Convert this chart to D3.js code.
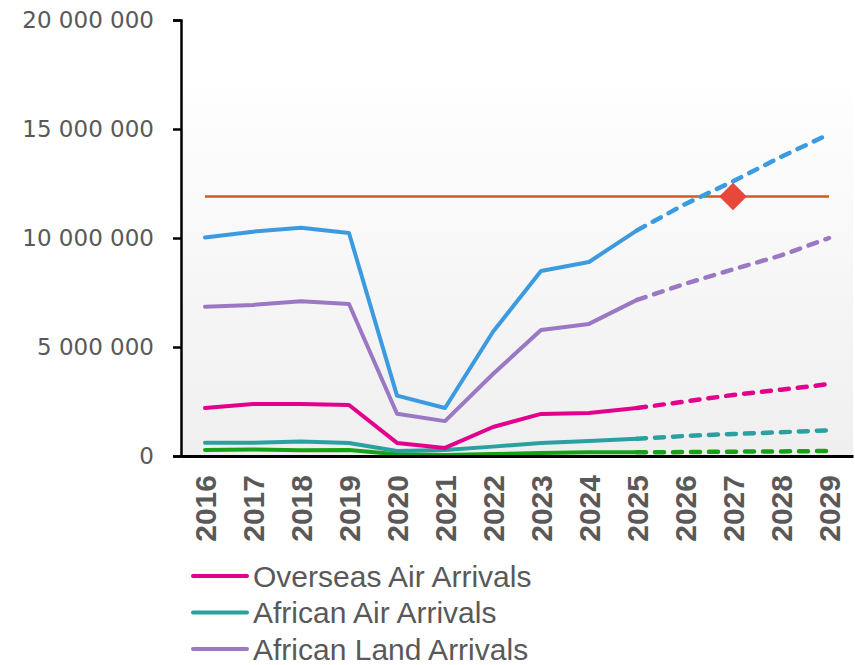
<!DOCTYPE html>
<html>
<head>
<meta charset="utf-8">
<script src="https://cdn.jsdelivr.net/npm/d3@7"></script>
<style>
    body { margin: 0; background: #ffffff; }
</style>
</head>
<body>
<svg class="arrivals" width="855" height="665"></svg>
<script>
// Years on the x axis, actuals up to 2025 and forecast after that
var years = ["2016", "2017", "2018", "2019", "2020", "2021", "2022",
             "2023", "2024", "2025", "2026", "2027", "2028", "2029"];
var forecastFrom = "2025";

// Series values (arrivals per year)
var overseasAir = [2200000, 2390000, 2390000, 2340000, 600000, 370000, 1330000,
                   1930000, 1970000, 2200000, 2500000, 2800000, 3040000, 3300000];
var africanAir = [610000, 610000, 660000, 600000, 230000, 280000, 430000,
                  600000, 690000, 790000, 920000, 1010000, 1090000, 1180000];
var africanLand = [6850000, 6930000, 7100000, 6970000, 1940000, 1600000, 3760000,
                   5780000, 6060000, 7160000, 7900000, 8560000, 9200000, 10000000];
var otherArrivals = [280000, 300000, 260000, 280000, 80000, 50000, 90000,
                     140000, 170000, 170000, 180000, 200000, 210000, 230000];
var totalArrivals = [10020000, 10290000, 10470000, 10230000, 2770000, 2200000, 5700000,
                     8490000, 8900000, 10350000, 11550000, 12600000, 13720000, 14760000];

// Target line and the year the target is met
var targetValue = 11900000;
var targetYear = "2027";

var yTicks = [0, 5000000, 10000000, 15000000, 20000000];

var series = [
    { name: "Overseas Air Arrivals", values: overseasAir, color: "#e3008c" },
    { name: "African Air Arrivals", values: africanAir, color: "#2ba0a0" },
    { name: "African Land Arrivals", values: africanLand, color: "#9a78c4" },
    { name: "Other Arrivals", values: otherArrivals, color: "#16a116" },
    { name: "Total Arrivals", values: totalArrivals, color: "#3c9be0" }
];
// only the first three legend rows fit in the picture
var legendCount = 3;

var svg = d3.select("svg.arrivals"),
    margin = {top: 20, right: 2, bottom: 209, left: 181},
    width = svg.attr("width") - margin.left - margin.right,
    height = svg.attr("height") - margin.top - margin.bottom;
var g = svg.append("g").attr("transform", "translate(" + margin.left + "," + margin.top + ")");

var x = d3.scaleBand().domain(years).range([0, width]);
var y = d3.scaleLinear().domain([0, 20000000]).range([height, 0]);
var cx = function(yr) { return x(yr) + x.bandwidth() / 2; };

var spaceFormat = d3.formatLocale({decimal: ".", thousands: " ", grouping: [3], currency: ["", ""]}).format(",");

//Plot area background, white at the top fading to light grey
var defs = svg.append("defs");
var grad = defs.append("linearGradient")
    .attr("id", "plotBg")
    .attr("x1", "0%").attr("y1", "0%")
    .attr("x2", "0%").attr("y2", "100%");
grad.append("stop").attr("offset", "0%").attr("stop-color", "#ffffff");
grad.append("stop").attr("offset", "100%").attr("stop-color", "#efefef");

g.append("rect")
    .attr("x", 2)
    .attr("y", 53)
    .attr("width", width - 2)
    .attr("height", height - 53)
    .attr("fill", "url(#plotBg)");

//Target line
g.append("line")
    .attr("x1", cx(years[0]))
    .attr("x2", cx(years[years.length - 1]))
    .attr("y1", y(targetValue))
    .attr("y2", y(targetValue))
    .style("stroke", "#d35a18")
    .style("stroke-width", 2.5);

//Lines: solid for actuals, dashed for the forecast
var splitIdx = years.indexOf(forecastFrom);
var line = d3.line()
    .x(function(d) { return cx(d.year); })
    .y(function(d) { return y(d.value); });

// draw order so blue ends on top like the original
var drawOrder = [3, 1, 0, 2, 4];
drawOrder.forEach(function(k) {
    var s = series[k];
    var pts = years.map(function(yr, i) { return {year: yr, value: s.values[i]}; });
    g.append("path")
        .attr("d", line(pts.slice(0, splitIdx + 1)))
        .style("fill", "none")
        .style("stroke", s.color)
        .style("stroke-width", 4)
        .style("stroke-linejoin", "round")
        .style("stroke-linecap", "round");
    g.append("path")
        .attr("d", line(pts.slice(splitIdx)))
        .style("fill", "none")
        .style("stroke", s.color)
        .style("stroke-width", 4.5)
        .style("stroke-dasharray", "9,9")
        .style("stroke-linecap", "round");
});

//Marker where the target is reached
g.append("path")
    .attr("d", d3.symbol().type(d3.symbolSquare).size(380)())
    .attr("transform", "translate(" + cx(targetYear) + "," + y(targetValue) + ") rotate(45)")
    .style("fill", "#e8473b");

//Y axis
var yAxis = g.append("g")
    .call(d3.axisLeft(y).tickValues(yTicks).tickFormat(spaceFormat).tickSize(8).tickPadding(19));
yAxis.select(".domain").style("stroke", "#000").style("stroke-width", 2.5);
yAxis.selectAll(".tick line").style("stroke", "#000").style("stroke-width", 2.5);
yAxis.selectAll(".tick text")
    .attr("fill", "#595959")
    .attr("font-family", "DejaVu Sans")
    .attr("font-size", "23px");

//X axis: just the base line, labels rotated
var xAxis = g.append("g")
    .attr("transform", "translate(0," + height + ")")
    .call(d3.axisBottom(x).tickSize(0).tickFormat(""));
xAxis.select(".domain").style("stroke", "#000").style("stroke-width", 3);

g.append("g")
    .selectAll("text")
    .data(years)
    .enter()
    .append("text")
    .attr("transform", function(d) { return "translate(" + cx(d) + "," + (height + 19) + ") rotate(-90)"; })
    .attr("dy", "0.36em")
    .attr("text-anchor", "end")
    .attr("fill", "#595959")
    .attr("font-family", "Liberation Sans")
    .attr("font-weight", "bold")
    .attr("font-size", "30px")
    .text(function(d) { return d; });

//Legend
var legendData = series.slice(0, legendCount);
var legend = svg.append("g").attr("class", "legend");
legend.x = 193;
legend.y = 576;
legend.step = 36.5;
legend.selectAll("line")
    .data(legendData)
    .enter()
    .append("line")
    .attr("x1", legend.x)
    .attr("x2", legend.x + 54)
    .attr("y1", function(d, i) { return legend.y + i * legend.step; })
    .attr("y2", function(d, i) { return legend.y + i * legend.step; })
    .style("stroke", function(d) { return d.color; })
    .style("stroke-width", 4)
    .style("stroke-linecap", "round");
legend.selectAll("text")
    .data(legendData)
    .enter()
    .append("text")
    .attr("x", legend.x + 60)
    .attr("y", function(d, i) { return legend.y + i * legend.step; })
    .attr("dy", "0.35em")
    .attr("fill", "#595959")
    .attr("font-family", "Liberation Sans")
    .attr("font-size", "30px")
    .text(function(d) { return d.name; });
</script>
</body>
</html>
